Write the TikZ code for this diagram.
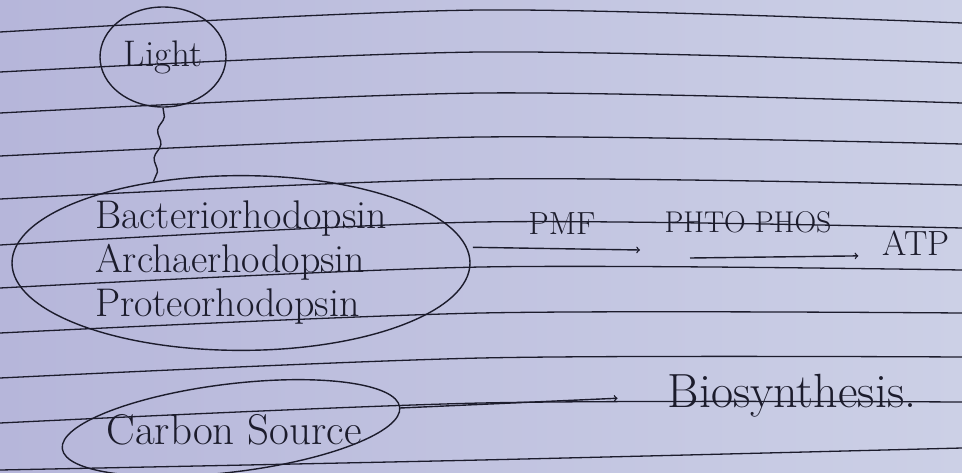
\documentclass[tikz,border=0pt]{standalone}
\usetikzlibrary{shapes.geometric,decorations.pathmorphing}
\definecolor{paperL}{RGB}{182,182,218}
\definecolor{paperR}{RGB}{204,208,230}
\definecolor{ink}{RGB}{28,28,44}
\tikzset{
  ruled/.style={ink, line width=1.3pt},
  pen/.style={ink, line width=1.4pt},
  hand/.style={text=ink, font=\fontsize{#1}{44}\selectfont, inner sep=0pt},
  ring/.style={pen, draw, ellipse, inner sep=0pt},
}
\begin{document}
\begin{tikzpicture}[x=1pt,y=-1pt]
      \useasboundingbox (0,0) rectangle (962,472);
      \shade[left color=paperL, right color=paperR] (0,0) rectangle (962,472);
      % ruled lines of the page, heights at left / middle / right
      \foreach \l/\m/\r in {32/10/23,72/52/63,113/93/103,156/137/144,199/179/185,245/222/228,288/267/270,333/313/313,378/358/357,423/403/402,470/460/448}{\draw[ruled] plot[smooth] coordinates {(0,\l) (481,\m) (962,\r)};}
      \node[ring, minimum width=126, minimum height=100, hand=37] (light) at (163,57) {Light};
      \node[ring, minimum width=458, minimum height=172, hand=40, align=left] (rhod) at (241,263) {Bacteriorhodopsin\\Archaerhodopsin\\Proteorhodopsin};
      \draw[pen, decorate, decoration={snake, amplitude=2.5pt, segment length=28pt}] (light.south) -- (rhod.137);
      \node[hand=32] (pmf) at (562,224) {PMF};
      \node[hand=30] (phos) at (748,222) {PHTO PHOS};
      \node[hand=35] (atp) at (916,243) {ATP};
      \coordinate (pmfend) at (640,250);
      \coordinate (phosstart) at (690,258);
      \draw[pen,->,shorten <=6pt] (rhod.4) -- (pmfend);
      \draw[pen,->,shorten >=24pt] (phosstart) -- (atp.south west);
      % tilted ring round the carbon source
      \node[hand=43] (carbon) at (234,430) {Carbon Source};
      \draw[pen, rotate around={7:(231,428)}] (231,428) ellipse (170 and 44);
      \coordinate (carbonrim) at (400,408);
      \node[hand=48] (bio) at (792,396) {Biosynthesis.};
      \draw[pen,->,shorten >=50pt] (carbonrim) -- (bio.west);
    \end{tikzpicture}
\end{document}
